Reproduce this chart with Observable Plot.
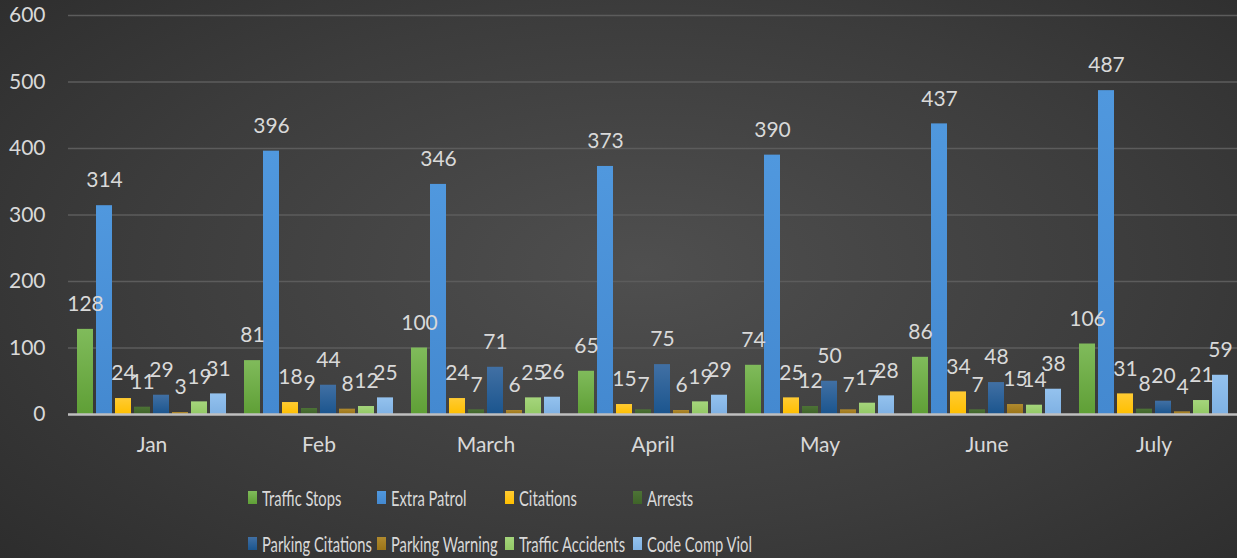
<!DOCTYPE html>
<html>
<head>
<meta charset="utf-8">
<script src="https://cdn.jsdelivr.net/npm/d3@7"></script>
<script src="https://cdn.jsdelivr.net/npm/@observablehq/plot@0.6"></script>
<style>
  html, body { margin: 0; padding: 0; }
  body {
    width: 1237px; height: 558px; overflow: hidden;
    background: radial-gradient(ellipse 75% 85% at 52% 48%, #4f4f4f 0%, #3c3c3c 55%, #2a2a2a 100%);
    font-family: Lato, "Open Sans", sans-serif;
  }
  #chart { position: relative; width: 1237px; height: 470px; }
  #legend { position: relative; width: 1237px; height: 88px; }
  .item { position: absolute; display: flex; align-items: center; height: 26px; color: #d9d9d9; font-size: 22px; white-space: nowrap; }
  .sw { width: 9px; height: 13px; margin-right: 5px; flex: none; }
  .lbl { display: inline-block; transform: scaleX(0.67); transform-origin: left center; }
</style>
</head>
<body>
<div id="chart"></div>
<div id="legend"></div>
<script>
const months = ["Jan", "Feb", "March", "April", "May", "June", "July"];
const series = ["Traffic Stops", "Extra Patrol", "Citations", "Arrests", "Parking Citations", "Parking Warning", "Traffic Accidents", "Code Comp Viol"];
const trafficStops     = [128, 81, 100, 65, 74, 86, 106];
const extraPatrol      = [314, 396, 346, 373, 390, 437, 487];
const citations        = [24, 18, 24, 15, 25, 34, 31];
const arrests          = [11, 9, 7, 7, 12, 7, 8];
const parkingCitations = [29, 44, 71, 75, 50, 48, 20];
const parkingWarning   = [3, 8, 6, 6, 7, 15, 4];
const trafficAccidents = [19, 12, 25, 19, 17, 14, 21];
const codeCompViol     = [31, 25, 26, 29, 28, 38, 59];
const yTicks = [0, 100, 200, 300, 400, 500, 600];

const colorsTop    = ["#80bb5b", "#5098de", "#ffcb33", "#4d7336", "#4170a4", "#b08a2e", "#a5d57c", "#94c2ee"];
const colorsBottom = ["#5f9f36", "#4489d0", "#ffbf00", "#3f6429", "#1b558e", "#9a7418", "#92c865", "#7fb1e3"];

const values = [trafficStops, extraPatrol, citations, arrests, parkingCitations, parkingWarning, trafficAccidents, codeCompViol];
const data = series.flatMap((s, i) => months.map((m, j) => ({month: m, series: s, value: values[i][j]})));

const barMarks = series.map((s, i) =>
  Plot.barY(data.filter(d => d.series === s), {fx: "month", x: "series", y: "value", fill: `url(#grad${i})`})
);

const chart = Plot.plot({
  width: 1237,
  height: 470,
  marginLeft: 67,
  marginRight: 0,
  marginTop: 15,
  marginBottom: 56,
  style: {background: "transparent", color: "#d9d9d9", fontFamily: "Lato, 'Open Sans', sans-serif", fontSize: "21px"},
  fx: {domain: months, padding: 0, label: null, axis: null},
  x: {domain: series, paddingInner: 0.158, paddingOuter: 0.466, axis: null},
  y: {domain: [0, 600], axis: null},
  marks: [
    Plot.gridY(yTicks.filter(t => t > 0), {stroke: "#5c5c5c", strokeOpacity: 1, strokeWidth: 1.5}),
    ...barMarks,
    Plot.ruleY([0], {stroke: "#bfbfbf", strokeWidth: 2.5}),
    Plot.text(data, {fx: "month", x: "series", y: "value", text: d => String(d.value), dy: -25, fill: "#d9d9d9", fontSize: 21}),
    Plot.axisY({ticks: yTicks, tickSize: 0, tickPadding: 23, label: null, fontSize: 21, fill: "#d9d9d9", tickFormat: d => String(d)}),
    Plot.axisFx({anchor: "bottom", tickSize: 0, tickPadding: 23, label: null, fontSize: 21, fill: "#d9d9d9"})
  ]
});

// gradient defs
const svgNS = "http://www.w3.org/2000/svg";
const defs = document.createElementNS(svgNS, "defs");
series.forEach((s, i) => {
  const g = document.createElementNS(svgNS, "linearGradient");
  g.setAttribute("id", `grad${i}`);
  g.setAttribute("x1", "0"); g.setAttribute("y1", "0"); g.setAttribute("x2", "0"); g.setAttribute("y2", "1");
  const s1 = document.createElementNS(svgNS, "stop");
  s1.setAttribute("offset", "0"); s1.setAttribute("stop-color", colorsTop[i]);
  const s2 = document.createElementNS(svgNS, "stop");
  s2.setAttribute("offset", "1"); s2.setAttribute("stop-color", colorsBottom[i]);
  g.appendChild(s1); g.appendChild(s2);
  defs.appendChild(g);
});
chart.insertBefore(defs, chart.firstChild);
document.getElementById("chart").appendChild(chart);

// legend
const legend = document.getElementById("legend");
const colX = [248, 377, 505, 633];
series.forEach((s, i) => {
  const item = document.createElement("div");
  item.className = "item";
  item.style.left = colX[i % 4] + "px";
  item.style.top = (i < 4 ? 14 : 60) + "px";
  const sw = document.createElement("span");
  sw.className = "sw";
  sw.style.background = `linear-gradient(${colorsTop[i]}, ${colorsBottom[i]})`;
  const lbl = document.createElement("span");
  lbl.className = "lbl";
  lbl.textContent = s;
  item.appendChild(sw); item.appendChild(lbl);
  legend.appendChild(item);
});
</script>
</body>
</html>
